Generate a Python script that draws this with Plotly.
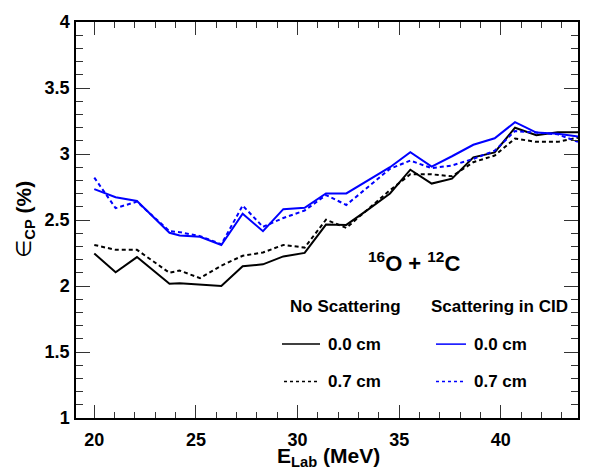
import plotly.graph_objects as go

# ---- data ----
E_lab = [20.0, 21.05, 22.1, 23.7, 24.2, 25.2, 26.25, 27.3, 28.3, 29.3, 30.35, 31.4,
         32.4, 33.45, 34.55, 35.55, 36.6, 37.6, 38.65, 39.7, 40.7, 41.75, 42.8, 43.8]

no_scat_00 = [2.246, 2.104, 2.219, 2.017, 2.020, 2.012, 2.000, 2.149, 2.164, 2.224, 2.251, 2.465,
              2.463, 2.577, 2.701, 2.881, 2.776, 2.813, 2.975, 3.012, 3.199, 3.142, 3.164, 3.164]
no_scat_07 = [2.311, 2.274, 2.274, 2.100, 2.117, 2.060, 2.154, 2.229, 2.254, 2.311, 2.291, 2.502,
              2.440, 2.580, 2.726, 2.846, 2.846, 2.831, 2.938, 2.988, 3.117, 3.092, 3.092, 3.124]
cid_00 = [2.734, 2.672, 2.644, 2.403, 2.383, 2.373, 2.311, 2.547, 2.415, 2.582, 2.592, 2.701,
          2.701, 2.796, 2.900, 3.013, 2.905, 2.983, 3.070, 3.119, 3.241, 3.162, 3.154, 3.132]
cid_07 = [2.821, 2.590, 2.639, 2.415, 2.408, 2.378, 2.316, 2.609, 2.448, 2.515, 2.572, 2.689,
          2.614, 2.745, 2.888, 2.950, 2.893, 2.913, 2.963, 3.025, 3.174, 3.162, 3.149, 3.092]

x_ticks = [20, 25, 30, 35, 40]
x_tick_labels = ["20", "25", "30", "35", "40"]
y_ticks = [1, 1.5, 2, 2.5, 3, 3.5, 4]
y_tick_labels = ["1", "1.5", "2", "2.5", "3", "3.5", "4"]

BLUE = "#0000ff"
BLACK = "#000000"
FONT = "Liberation Sans, Arial, sans-serif"

fig = go.Figure()
fig.add_trace(go.Scatter(x=E_lab, y=no_scat_00, mode="lines",
                         line=dict(color=BLACK, width=2), name="No Scattering 0.0 cm"))
fig.add_trace(go.Scatter(x=E_lab, y=no_scat_07, mode="lines",
                         line=dict(color=BLACK, width=2, dash="4px,3px"), name="No Scattering 0.7 cm"))
fig.add_trace(go.Scatter(x=E_lab, y=cid_00, mode="lines",
                         line=dict(color=BLUE, width=2), name="Scattering in CID 0.0 cm"))
fig.add_trace(go.Scatter(x=E_lab, y=cid_07, mode="lines",
                         line=dict(color=BLUE, width=2, dash="4px,3px"), name="Scattering in CID 0.7 cm"))

L, R, T, B = 76, 22, 16, 52
W, H = 600, 470
PW, PH = W - L - R, H - T - B


def px(xp):
    return (xp - L) / PW


def py(yp):
    return (H - B - yp) / PH


fig.update_layout(
    width=W, height=H,
    margin=dict(l=L, r=R, t=T, b=B),
    paper_bgcolor="white", plot_bgcolor="white",
    showlegend=False,
    font=dict(family=FONT, color="black"),
)

fig.update_xaxes(
    range=[19.1, 43.8], tickmode="array", tickvals=x_ticks, ticktext=x_tick_labels,
    ticks="inside", ticklen=13, tickwidth=1, tickcolor="#333",
    minor=dict(ticks="inside", dtick=1, tick0=20, ticklen=6, tickwidth=1, tickcolor="#333"),
    showline=True, linecolor="black", linewidth=1.5, mirror="ticks",
    showgrid=False, zeroline=False,
    tickfont=dict(family=FONT, size=18, weight="bold"),
    ticklabelstandoff=5,
)
fig.update_yaxes(
    range=[1, 4], tickmode="array", tickvals=y_ticks, ticktext=y_tick_labels,
    ticks="inside", ticklen=14, tickwidth=1, tickcolor="#333",
    minor=dict(ticks="inside", dtick=0.1, tick0=1, ticklen=7, tickwidth=1, tickcolor="#333"),
    showline=True, linecolor="black", linewidth=1.5, mirror="ticks",
    showgrid=False, zeroline=False,
    tickfont=dict(family=FONT, size=18, weight="bold"),
    ticklabelstandoff=1,
)

annotations = [
    # axis titles
    dict(text="<b>E<sub>Lab</sub> (MeV)</b>", x=px(328), y=py(458), xref="paper", yref="paper",
         xanchor="center", yanchor="middle", showarrow=False, font=dict(size=21, family=FONT)),
    dict(text="<span style='font-family:DejaVu Sans'>∈</span><b><sub>CP</sub> (%)</b>",
         x=px(25), y=py(217), xref="paper", yref="paper",
         xanchor="center", yanchor="middle", textangle=-90, showarrow=False,
         font=dict(size=21, family=FONT)),
    # reaction label
    dict(text="<b><sup>16</sup>O + <sup>12</sup>C</b>", x=px(414), y=py(260), xref="paper", yref="paper",
         xanchor="center", yanchor="middle", showarrow=False, font=dict(size=22, family=FONT)),
    # legend headers
    dict(text="<b>No Scattering</b>", x=px(345), y=py(305), xref="paper", yref="paper",
         xanchor="center", yanchor="middle", showarrow=False, font=dict(size=17, family=FONT)),
    dict(text="<b>Scattering in CID</b>", x=px(499), y=py(305), xref="paper", yref="paper",
         xanchor="center", yanchor="middle", showarrow=False, font=dict(size=17, family=FONT)),
    # legend entries
    dict(text="<b>0.0 cm</b>", x=px(326), y=py(343), xref="paper", yref="paper",
         xanchor="left", yanchor="middle", showarrow=False, font=dict(size=17, family=FONT)),
    dict(text="<b>0.7 cm</b>", x=px(326), y=py(381), xref="paper", yref="paper",
         xanchor="left", yanchor="middle", showarrow=False, font=dict(size=17, family=FONT)),
    dict(text="<b>0.0 cm</b>", x=px(472), y=py(343), xref="paper", yref="paper",
         xanchor="left", yanchor="middle", showarrow=False, font=dict(size=17, family=FONT)),
    dict(text="<b>0.7 cm</b>", x=px(472), y=py(381), xref="paper", yref="paper",
         xanchor="left", yanchor="middle", showarrow=False, font=dict(size=17, family=FONT)),
]
fig.update_layout(annotations=annotations)

shapes = [
    dict(type="line", xref="paper", yref="paper", x0=px(282), x1=px(320), y0=py(343), y1=py(343),
         line=dict(color=BLACK, width=1.5)),
    dict(type="line", xref="paper", yref="paper", x0=px(284), x1=px(320), y0=py(381), y1=py(381),
         line=dict(color=BLACK, width=1.5, dash="3px,3px")),
    dict(type="line", xref="paper", yref="paper", x0=px(436), x1=px(466), y0=py(343), y1=py(343),
         line=dict(color=BLUE, width=1.5)),
    dict(type="line", xref="paper", yref="paper", x0=px(436), x1=px(466), y0=py(381), y1=py(381),
         line=dict(color=BLUE, width=1.5, dash="3px,3px")),
]
fig.update_layout(shapes=shapes)

fig.write_html("out.html")
